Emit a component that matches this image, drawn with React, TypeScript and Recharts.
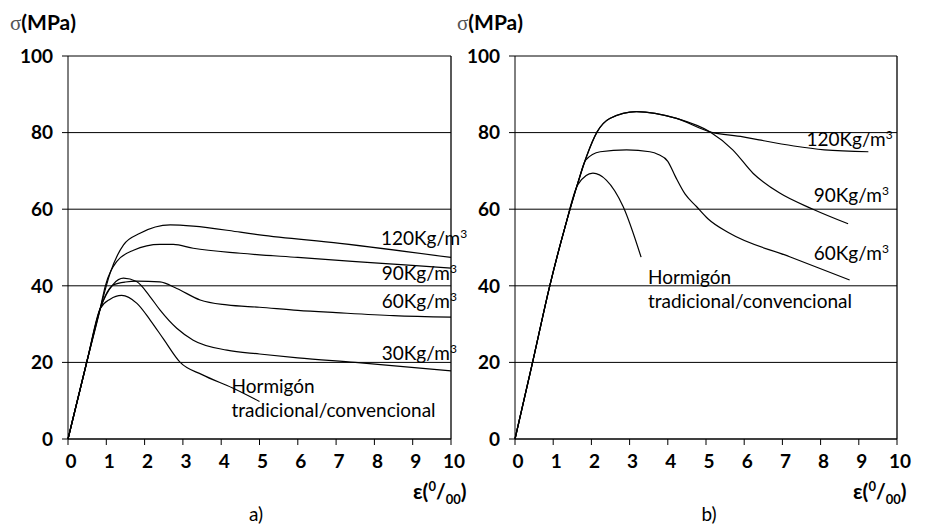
import React from 'react'
import {
  LineChart, Line, XAxis, YAxis, CartesianGrid, ReferenceLine, ReferenceDot,
} from 'recharts'

// a) strain (‰) / stress (MPa)
const aHormigonX = [0, 0.5, 0.84, 1.1, 1.4, 1.8, 2.15, 2.5, 2.93, 3.5, 4.3, 5.0]
const aHormigonY = [0, 20.5, 34, 36.5, 37.5, 35.4, 31, 26, 20, 16.8, 13.3, 9.8]
const a30X = [0, 0.5, 0.84, 1.18, 1.45, 1.79, 2.14, 2.4, 2.84, 3.27, 4.15, 5.0, 6.0, 7.5, 10]
const a30Y = [0, 20.5, 34, 40.4, 42, 41.1, 37.2, 33.7, 28.9, 25.8, 23.2, 22.2, 21.2, 20, 17.8]
const a60X = [0, 0.5, 0.84, 1.18, 1.5, 1.8, 2.4, 2.84, 3.45, 4.15, 5.0, 6.0, 7.0, 8.5, 10]
const a60Y = [0, 20.5, 34, 40.2, 41, 41.2, 41, 39.3, 36.3, 35, 34.4, 33.6, 33, 32.2, 31.8]
const a90X = [0, 0.5, 0.84, 0.97, 1.27, 1.71, 2.4, 2.75, 3.27, 4.5, 6.0, 8.0, 10]
const a90Y = [0, 20.5, 34, 39.8, 46.3, 49.3, 50.8, 50.8, 49.8, 48.5, 47.4, 46, 44.6]
const a120X = [0, 0.5, 0.84, 1.1, 1.45, 1.88, 2.67, 3.27, 4.5, 5.0, 7.1, 10]
const a120Y = [0, 20.5, 34, 43.3, 50.7, 53.7, 55.9, 55.6, 54, 53.3, 51.1, 47.4]

// b)
const bHormigonX = [0, 0.46, 0.91, 1.3, 1.65, 2.04, 2.39, 2.83, 3.3]
const bHormigonY = [0, 20, 40, 55, 66.5, 69.4, 67.6, 60.7, 47.5]
const b60X = [0, 0.46, 0.91, 1.3, 1.65, 1.85, 2.23, 2.92, 3.53, 3.75, 4.0, 4.2, 4.45, 4.75, 5.05, 5.62, 7.19, 8.76]
const b60Y = [0, 20, 40, 55, 67, 72.8, 75, 75.5, 75, 74.3, 72.5, 68.5, 64, 60.7, 57.5, 53.7, 47.6, 41.5]
const b90X = [0, 0.46, 0.91, 1.3, 1.65, 1.87, 2.15, 2.48, 3.18, 4.23, 5.1, 5.7, 6.23, 6.93, 7.8, 8.72]
const b90Y = [0, 20, 40, 55, 67, 73.7, 80.2, 83.7, 85.5, 83.7, 80.2, 75.5, 69.4, 64.2, 60, 56.2]
const b120X = [0, 0.46, 0.91, 1.3, 1.65, 1.87, 2.15, 2.48, 3.18, 4.23, 5.1, 5.97, 6.39, 7.3, 8.1, 9.25]
const b120Y = [0, 20, 40, 55, 67, 73.7, 80.2, 83.7, 85.5, 83.7, 80.2, 78.9, 78.1, 76.5, 75.5, 75.0]

const xTicks = [0, 1, 2, 3, 4, 5, 6, 7, 8, 9, 10]
const yTicks = [0, 20, 40, 60, 80, 100]

// curve labels, anchored in data units (start of baseline); sup = superscript after text
const aLabels = [
  { text: '120Kg/m', sup: '3', x: 8.17, y: 50.6 },
  { text: '90Kg/m', sup: '3', x: 8.19, y: 41.5 },
  { text: '60Kg/m', sup: '3', x: 8.19, y: 34.1 },
  { text: '30Kg/m', sup: '3', x: 8.19, y: 20.6 },
  { text: 'Hormigón', sup: '', x: 4.27, y: 12.0 },
  { text: 'tradicional/convencional', sup: '', x: 4.27, y: 5.8 },
]
const bLabels = [
  { text: '120Kg/m', sup: '3', x: 7.63, y: 76.6 },
  { text: '90Kg/m', sup: '3', x: 7.82, y: 61.8 },
  { text: '60Kg/m', sup: '3', x: 7.82, y: 46.7 },
  { text: 'Hormigón', sup: '', x: 3.48, y: 40.5 },
  { text: 'tradicional/convencional', sup: '', x: 3.48, y: 34.1 },
]

const FONT = 'Lato, "Open Sans", sans-serif'

const zip = (xs: number[], ys: number[]) => xs.map((x, i) => ({ x, y: ys[i] }))

const curveLabel = (text: string, sup: string) => (props: any) => {
  const vb = props.viewBox || {}
  return (
    <text x={vb.x} y={vb.y} fontFamily={FONT} fontSize={19} fill="#000">
      {text}
      {sup ? <tspan dy={-7} fontSize={12}>{sup}</tspan> : null}
    </text>
  )
}

function Panel({ series, labels, width, yAxisWidth, right }: {
  series: { x: number; y: number }[][]
  labels: { text: string; sup: string; x: number; y: number }[]
  width: number
  yAxisWidth: number
  right: number
}) {
  const tick = { fontSize: 19, fontWeight: 700, fill: '#000', fontFamily: FONT }
  return (
    <LineChart width={width} height={524} margin={{ top: 56, right, left: 0, bottom: 55 }}>
      <CartesianGrid vertical={false} stroke="#000" strokeWidth={1} />
      <XAxis
        type="number" dataKey="x" domain={[0, 10]} ticks={xTicks}
        height={30} tickSize={6} tickMargin={10} tick={{ ...tick, dx: 3 }}
        axisLine={{ stroke: '#000' }} tickLine={{ stroke: '#000' }}
      />
      <YAxis
        type="number" domain={[0, 100]} ticks={yTicks} width={yAxisWidth}
        tickSize={6} tickMargin={9} tick={tick}
        axisLine={{ stroke: '#000' }} tickLine={{ stroke: '#000' }}
      />
      <ReferenceLine x={10} stroke="#000" strokeWidth={1.3} />
      {series.map((d, i) => (
        <Line
          key={i} data={d} dataKey="y" type="monotone" stroke="#000"
          strokeWidth={1.2} dot={false} isAnimationActive={false}
        />
      ))}
      {labels.map((l, i) => (
        <ReferenceDot
          key={'l' + i} x={l.x} y={l.y} r={0} stroke="none" fill="none"
          ifOverflow="visible" label={curveLabel(l.text, l.sup)}
        />
      ))}
    </LineChart>
  )
}

function StrainTitle({ x }: { x: number }) {
  return (
    <text x={x} y={499} fontFamily={FONT} fontSize={21} fontWeight={700} fill="#000">
      ε(<tspan dy={-8} fontSize={13}>0</tspan>
      <tspan dy={8}>/</tspan>
      <tspan dy={5} fontSize={13}>00</tspan>
      <tspan dy={-5}>)</tspan>
    </text>
  )
}

function StressTitle({ x }: { x: number }) {
  return (
    <text x={x} y={30} fontFamily={FONT} fontSize={21} fill="#000">
      <tspan fontFamily='"Liberation Serif", serif' fill="#555">σ</tspan>
      <tspan fontWeight={700}>(MPa)</tspan>
    </text>
  )
}

export default function App() {
  const aSeries = [
    zip(aHormigonX, aHormigonY), zip(a30X, a30Y), zip(a60X, a60Y),
    zip(a90X, a90Y), zip(a120X, a120Y),
  ]
  const bSeries = [
    zip(bHormigonX, bHormigonY), zip(b60X, b60Y), zip(b90X, b90Y), zip(b120X, b120Y),
  ]
  return (
    <div style={{ position: 'absolute', left: 0, top: 0, width: 925, height: 524, background: '#fff' }}>
      <div style={{ position: 'absolute', left: 0, top: 0 }}>
        <Panel series={aSeries} labels={aLabels} width={470} yAxisWidth={68} right={19} />
      </div>
      <div style={{ position: 'absolute', left: 460, top: 0 }}>
        <Panel series={bSeries} labels={bLabels} width={465} yAxisWidth={55} right={28} />
      </div>
      <svg width={925} height={524} style={{ position: 'absolute', left: 0, top: 0, pointerEvents: 'none' }}>
        <StressTitle x={10} />
        <StressTitle x={457} />
        <StrainTitle x={413} />
        <StrainTitle x={853} />
        <text x={256} y={521} textAnchor="middle" fontFamily={FONT} fontSize={19} fill="#000">a)</text>
        <text x={709} y={521} textAnchor="middle" fontFamily={FONT} fontSize={19} fill="#000">b)</text>
      </svg>
    </div>
  )
}
